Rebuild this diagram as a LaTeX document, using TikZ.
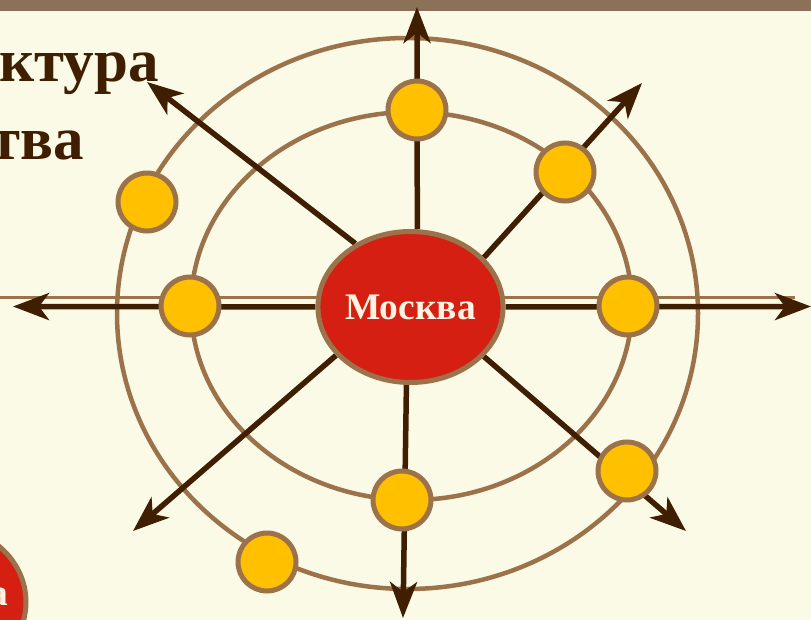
\documentclass[tikz,border=0pt]{standalone}
\usepackage{fontspec}
\setmainfont{Liberation Serif}
\usetikzlibrary{arrows.meta,backgrounds,shapes.geometric}
\definecolor{cream}{HTML}{FAFAE6}
\definecolor{bandbrown}{HTML}{8B7157}
\definecolor{roadbrown}{HTML}{3F1E02}
\definecolor{ringbrown}{HTML}{9B724A}
\definecolor{townyellow}{HTML}{FFC000}
\definecolor{capred}{HTML}{D41F12}
\definecolor{labelcream}{HTML}{FCF4E0}
\begin{document}
\begin{tikzpicture}[x=1pt,y=-1pt,
  town/.style={circle,draw=ringbrown,line width=5pt,fill=townyellow,minimum size=58pt,inner sep=0pt},
  capital/.style={ellipse,draw=ringbrown,line width=5pt,fill=capred,minimum width=166pt,minimum height=151pt,inner sep=0pt,text=labelcream,font=\bfseries\fontsize{37.5}{40}\selectfont},
  road/.style={draw=roadbrown,line width=5.5pt,-{Stealth[length=36pt,width=27pt,inset=10pt]}},
  ring/.style={draw=ringbrown,line width=4.5pt},
  title/.style={text=roadbrown,font=\bfseries\fontsize{61}{66}\selectfont,inner sep=0pt}]
\useasboundingbox (0,0) rectangle (811,620);
\clip (0,0) rectangle (811,620);
% capital and towns
\node[capital] (msk) at (410.5,307) {Москва};
\node[capital] (msk2) at (-57,602) {};
\node[text=labelcream,font=\bfseries\fontsize{37.5}{40}\selectfont,anchor=base east,inner sep=0pt] (msk2t) at (8,605) {а};
\node[town] (tw1) at (417,110) {};
\node[town] (tw2) at (565,172) {};
\node[town] (tw3) at (147,202) {};
\node[town] (tw4) at (190,306) {};
\node[town] (tw5) at (628,306) {};
\node[town] (tw6) at (402,500) {};
\node[town] (tw7) at (627,471) {};
\node[town] (tw8) at (267,562) {};
% heading
\node[title,anchor=base east] (ttl1) at (159,82) {ктура};
\node[title,anchor=base east] (ttl2) at (84,160) {тва};
% ends of the roads
\coordinate (eN) at (417,7);
\coordinate (eS) at (403,618);
\coordinate (eW) at (13,306.5);
\coordinate (eE) at (811,306.5);
\coordinate (eNW) at (147,82);
\coordinate (eNE) at (642,83);
\coordinate (eSW) at (133,531);
\coordinate (eSE) at (686,531);
\begin{scope}[on background layer]
\fill[cream] (0,0) rectangle (811,620);
\fill[bandbrown] (0,0) rectangle (811,11);
\draw[ringbrown,line width=2.2pt] (0,297.5) -- (795,297.5);
\draw[ring] (407.5,313.5) ellipse [x radius=290.5,y radius=275.5];
\draw[ring] (411.5,306) ellipse [x radius=220.5,y radius=194];
\draw[road] (msk.85) -- (eN);
\draw[road] (msk.267) -- (eS);
\draw[road] (msk.180) -- (eW);
\draw[road] (msk.0) -- (eE);
\draw[road] (msk.131) -- (eNW);
\draw[road] (msk.34) -- (eNE);
\draw[road] (msk.213) -- (eSW);
\draw[road] (msk.326) -- (eSE);
\end{scope}
\end{tikzpicture}
\end{document}
